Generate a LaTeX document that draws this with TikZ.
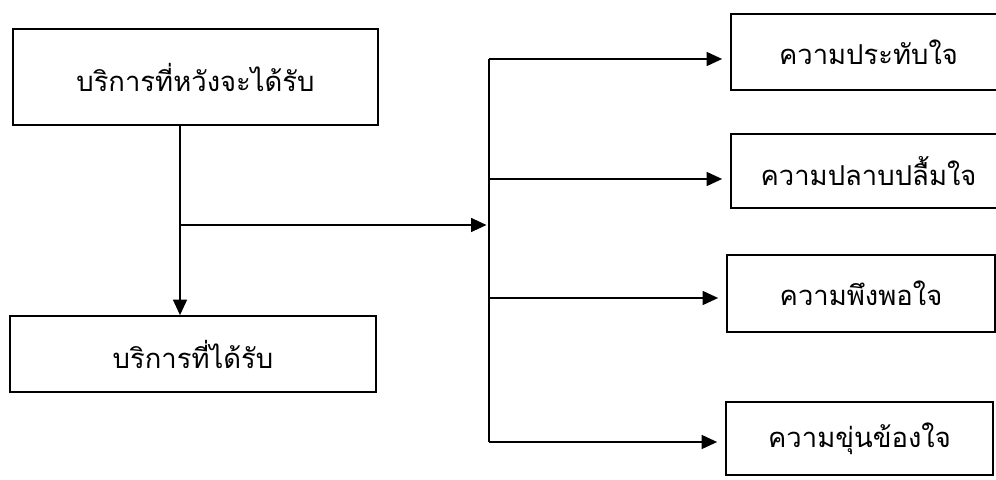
\documentclass[tikz,border=0pt]{standalone}
\usepackage{fontspec}
\newfontfamily\thaifont[Script=Thai]{Loma}
\usetikzlibrary{arrows.meta,calc}

\begin{document}
\begin{tikzpicture}[font=\thaifont\fontsize{15.6}{19}\selectfont,>={Triangle[length=3.1mm,width=2.8mm]},
   line width=0.9pt,
   b/.style={draw,line width=1pt,inner sep=0pt,align=center},
   r/.style={b,minimum width=5.5cm},
   conn/.style={->,shorten >=1.6mm}]
  \useasboundingbox (0,0) rectangle (19.92,9.58);
  % left boxes (expected / received service)
  \node[b,minimum width=7.3cm,minimum height=1.92cm]  (exp) at (3.91,8.04) {บริการที่หวังจะได้รับ};
  \node[b,minimum width=7.32cm,minimum height=1.52cm] (got) at (3.86,2.5)  {บริการที่ได้รับ};
  % right boxes (outcomes)
  \node[r,minimum height=1.52cm] (imp) at (17.37,8.54) {ความประทับใจ};
  \node[r,minimum height=1.48cm] (del) at (17.37,6.16) {ความปลาบปลื้มใจ};
  \node[b,minimum width=5.36cm,minimum height=1.54cm] (sat) at (17.22,3.71) {ความพึงพอใจ};
  \node[b,minimum width=5.34cm,minimum height=1.46cm] (dis) at (17.19,0.81) {ความขุ่นข้องใจ};
  % bus points
  \coordinate (j)  at (3.6,5.08);
  \coordinate (bA) at (9.78,8.4);
  \coordinate (bB) at (9.78,6.0);
  \coordinate (bC) at (9.78,3.62);
  \coordinate (bD) at (9.78,0.74);
  % --- flow ---
  \draw[->] (exp.south -| j) -- (got.north -| j);
  \draw[->,shorten >=0.5mm] (j) -- (j -| bA);
  \draw (bA) -- (bD);
  \draw[conn] (bA) -- (bA -| imp.west);
  \draw[conn] (bB) -- (bB -| del.west);
  \draw[conn] (bC) -- (bC -| sat.west);
  \draw[conn] (bD) -- (bD -| dis.west);
\end{tikzpicture}
\end{document}
